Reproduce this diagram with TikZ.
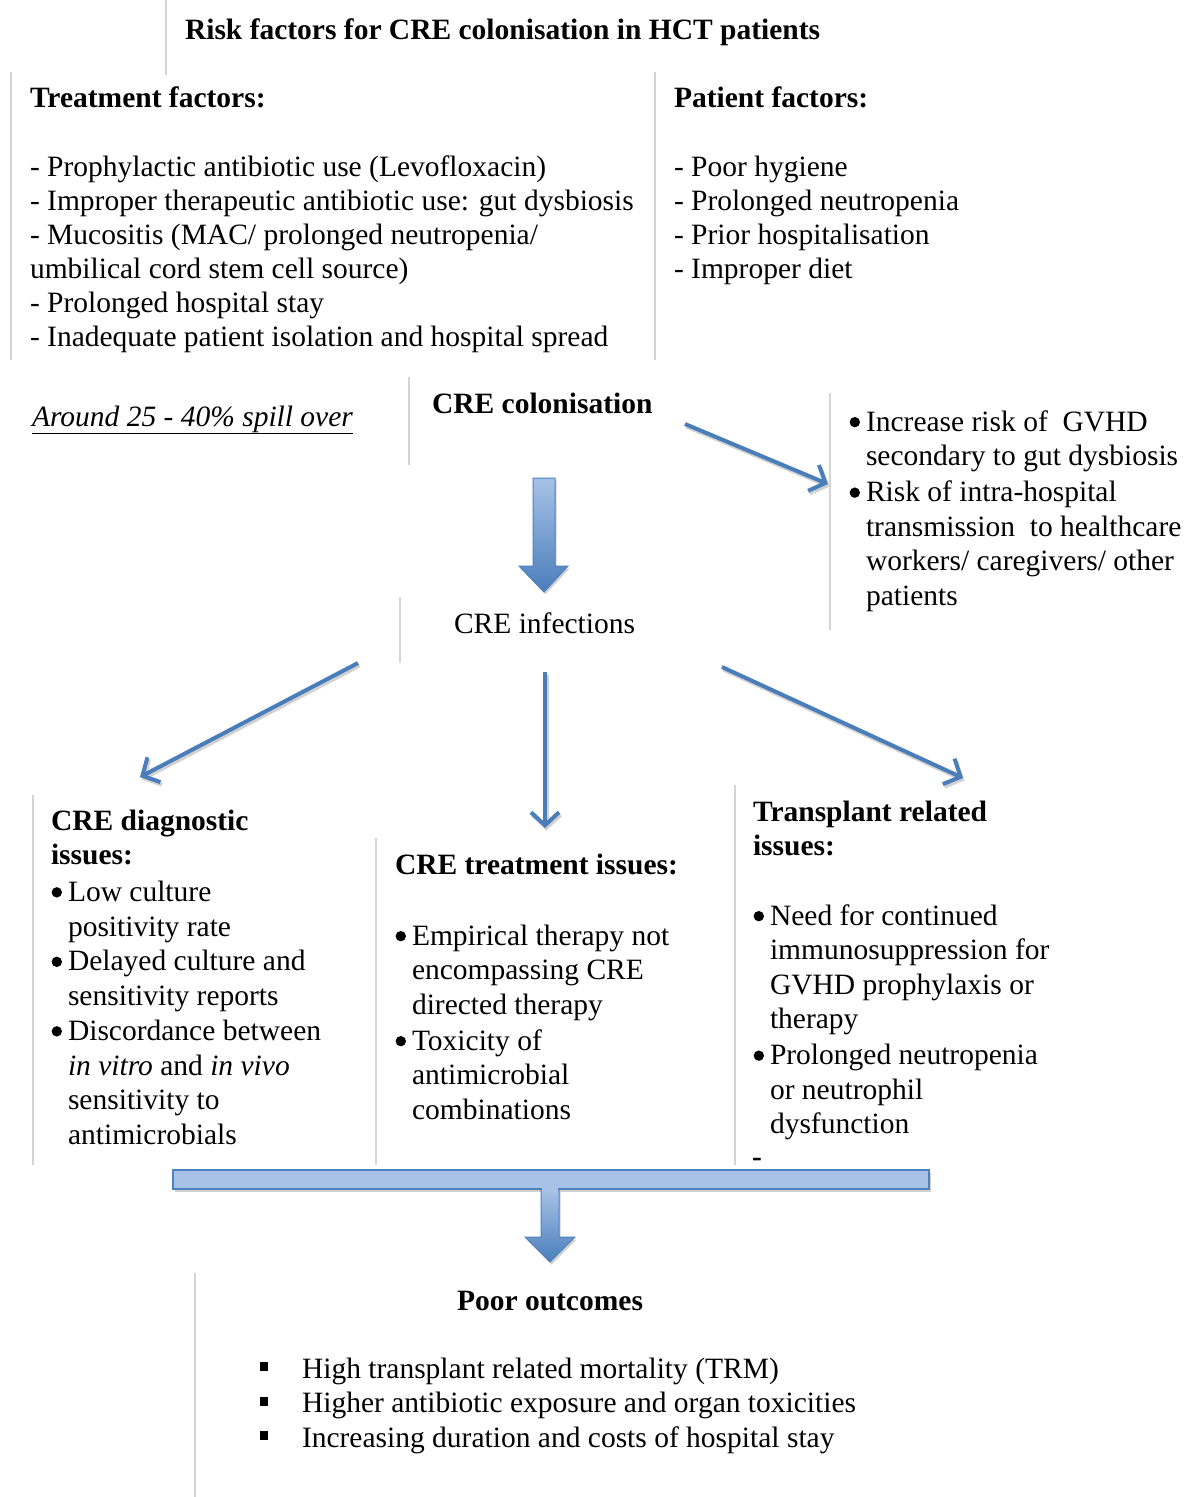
\documentclass[tikz,border=0pt]{standalone}
\usepackage{fontspec}
\setmainfont{Liberation Serif}
\usetikzlibrary{arrows.meta,calc}
\definecolor{arrowblue}{HTML}{4A7EBB}
\definecolor{lightblue}{HTML}{A7C2E6}
\definecolor{edgeblue}{HTML}{4F81BD}
\definecolor{boxgray}{HTML}{D4D4D4}
\newcommand\fs{\fontsize{29.5}{34.5}\selectfont}
\newcommand\bul{\llap{\tikz[baseline=0pt]\fill[black] (5pt,9pt) circle (5.2pt);\hspace{6pt}}}
\newcommand\sqb{\llap{\rule[7pt]{8pt}{9pt}\hspace{34pt}}}
\begin{document}
\begin{tikzpicture}[x=1pt,y=-1pt,
  txt/.style={anchor=north west, inner sep=0pt, outer sep=0pt, align=left, font=\fs},
  line/.style={anchor=base west, inner sep=0pt, outer sep=0pt, font=\fs},
  sep/.style={draw=boxgray, line width=1.2pt},
  thinarrow/.style={draw=arrowblue, line width=4pt, -{Straight Barb[length=13pt,width=28pt]}},
  shadowarrow/.style={draw=black!18, line width=4pt, -{Straight Barb[length=13pt,width=28pt]}},
  blockarrow/.style={top color=lightblue, bottom color=arrowblue, draw=edgeblue, line width=1pt},
  blockshadow/.style={fill=black!18, draw=none}]
\useasboundingbox (0,0) rectangle (1192,1497);
\fill[white] (0,0) rectangle (1192,1497);

% box edges
\draw[sep] (166,0) -- (166,75);
\draw[sep] (11,72) -- (11,360);
\draw[sep] (655,72) -- (655,360);
\draw[sep] (409,377) -- (409,465);
\draw[sep] (830,393) -- (830,630);
\draw[sep] (400,597) -- (400,663);
\draw[sep] (33,795) -- (33,1165);
\draw[sep] (376,838) -- (376,1165);
\draw[sep] (735,785) -- (735,1165);
\draw[sep] (195,1273) -- (195,1497);

% texts
\node[line] (title) at (185,39) {\textbf{Risk factors for CRE colonisation in HCT patients}};

\node[txt, font=\fontsize{29.5}{34}\selectfont] (treat) at (30,84) {\strut\textbf{Treatment factors:}\\[35pt]
- Prophylactic antibiotic use (Levofloxacin)\\
- Improper therapeutic antibiotic use: gut dysbiosis\\
- Mucositis (MAC/ prolonged neutropenia/\\
umbilical cord stem cell source)\\
- Prolonged hospital stay\\
- Inadequate patient isolation and hospital spread};

\node[txt, font=\fontsize{29.5}{34}\selectfont] (patient) at (674,84) {\strut\textbf{Patient factors:}\\[35pt]
- Poor hygiene\\
- Prolonged neutropenia\\
- Prior hospitalisation\\
- Improper diet};

\node[line] (spill) at (32,426) {\itshape\underline{Around 25 - 40\% spill over}};
\node[line] (colon) at (432,413) {\textbf{CRE colonisation}};

\node[txt] (risks) at (866,407) {\strut\bul Increase risk of\ \ GVHD\\
secondary to gut dysbiosis\\[1.5pt]
\bul Risk of intra-hospital\\
transmission\ \ to healthcare\\
workers/ caregivers/ other\\
patients};

\node[line] (infect) at (454,633) {CRE infections};

\node[txt] (diagH) at (51,806) {\strut\textbf{CRE diagnostic}\\\textbf{issues:}};
\node[txt, font=\fontsize{29.5}{34.75}\selectfont] (diagB) at (68,877) {\strut\bul Low culture\\
positivity rate\\
\bul Delayed culture and\\
sensitivity reports\\
\bul Discordance between\\
\textit{in vitro} and \textit{in vivo}\\
sensitivity to\\
antimicrobials};

\node[line] (treatH) at (395,874) {\textbf{CRE treatment issues:}};
\node[txt] (treatB) at (412,921) {\strut\bul Empirical therapy not\\
encompassing CRE\\
directed therapy\\[1.5pt]
\bul Toxicity of\\
antimicrobial\\
combinations};

\node[txt] (transH) at (753,797) {\strut\textbf{Transplant related}\\\textbf{issues:}};
\node[txt] (transB) at (770,901) {\strut\bul Need for continued\\
immunosuppression for\\
GVHD prophylaxis or\\
therapy\\[1.5pt]
\bul Prolonged neutropenia\\
or neutrophil\\
dysfunction};
\node[line] (dash) at (752,1166) {\textbf{-}};

\node[anchor=base, inner sep=0pt, font=\fs] (poor) at (550,1310) {\textbf{Poor outcomes}};
\node[txt] (poorB) at (302,1354) {\strut\sqb High transplant related mortality (TRM)\\
\sqb Higher antibiotic exposure and organ toxicities\\
\sqb Increasing duration and costs of hospital stay};

% connector end points
\coordinate (c1s) at (685,424);
\coordinate (c1e) at (828,484);
\coordinate (iLs) at (358,663);
\coordinate (iLe) at (140,777);
\coordinate (iMs) at (545,672);
\coordinate (iMe) at (545,828);
\coordinate (iRs) at (722,667);
\coordinate (iRe) at (963,778);
\coordinate (bA) at (544,478);
\coordinate (bB) at (544,592);
\coordinate (barL) at (173,1170);
\coordinate (barR) at (929,1189);
\coordinate (oA) at (550,1189);
\coordinate (oB) at (550,1262);

% shadows
\begin{scope}[transform canvas={shift={(1.5pt,-2.5pt)}}]
\draw[shadowarrow] (c1s) -- (c1e);
\draw[shadowarrow] (iLs) -- (iLe);
\draw[shadowarrow] (iMs) -- (iMe);
\draw[shadowarrow] (iRs) -- (iRe);
\fill[blockshadow] ($(bA)+(-11,0)$) -- ($(bA)+(11,0)$) -- ($(bB)+(11,-26)$) -- ($(bB)+(24,-26)$) -- (bB) -- ($(bB)+(-25,-26)$) -- ($(bB)+(-11,-26)$) -- cycle;
\fill[blockshadow] (barL) rectangle (barR);
\fill[blockshadow] ($(oA)+(-9,0)$) -- ($(oA)+(9,0)$) -- ($(oB)+(9,-25)$) -- ($(oB)+(25,-25)$) -- (oB) -- ($(oB)+(-25,-25)$) -- ($(oB)+(-9,-25)$) -- cycle;
\end{scope}

% connectors
\draw[thinarrow] (c1s) -- (c1e);
\draw[thinarrow] (iLs) -- (iLe);
\draw[thinarrow] (iMs) -- (iMe);
\draw[thinarrow] (iRs) -- (iRe);

\path[blockarrow] ($(bA)+(-11,0)$) -- ($(bA)+(11,0)$) -- ($(bB)+(11,-26)$) -- ($(bB)+(24,-26)$) -- (bB) -- ($(bB)+(-25,-26)$) -- ($(bB)+(-11,-26)$) -- cycle;

\path[fill=lightblue, draw=edgeblue, line width=1.5pt] (barL) rectangle (barR);
\path[blockarrow] ($(oA)+(-9,0.8)$) -- ($(oA)+(9,0.8)$) -- ($(oB)+(9,-25)$) -- ($(oB)+(25,-25)$) -- (oB) -- ($(oB)+(-25,-25)$) -- ($(oB)+(-9,-25)$) -- cycle;
\fill[lightblue] ($(oA)+(-8.3,-0.6)$) rectangle ($(oA)+(8.3,3)$);
\end{tikzpicture}
\end{document}
